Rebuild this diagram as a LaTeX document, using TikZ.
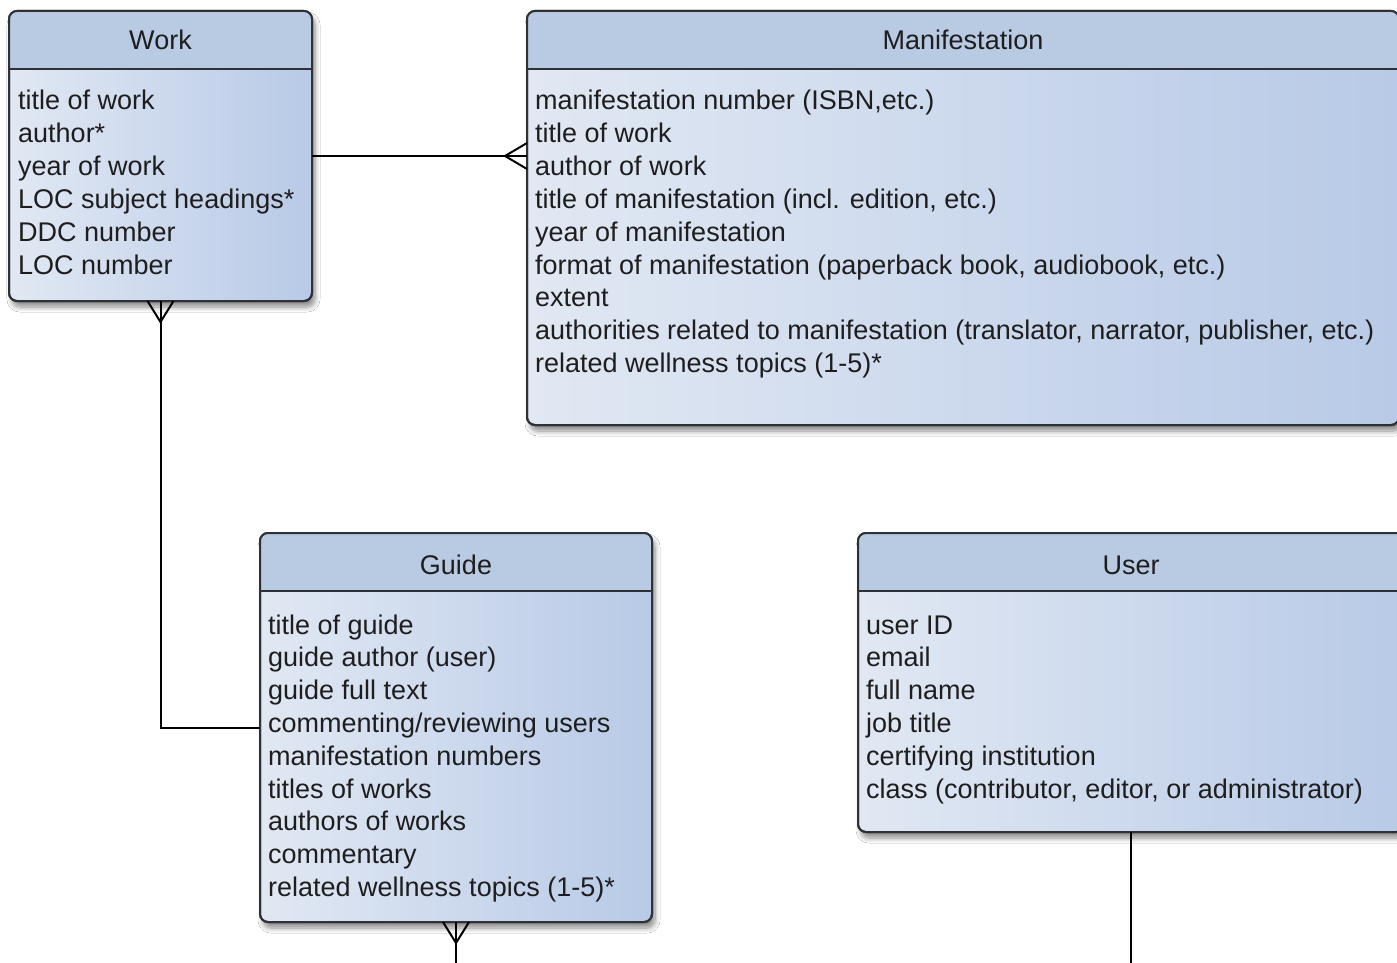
\documentclass[tikz,border=0pt]{standalone}
\usepackage{fontspec}
\setmainfont{Liberation Sans}
\usetikzlibrary{calc,shadows.blur}
\definecolor{hdr}{HTML}{B9CAE3}
\definecolor{bodyL}{HTML}{E1E8F3}
\definecolor{bodyR}{HTML}{B8CAE7}
\definecolor{edgec}{HTML}{2E3236}
\definecolor{txt}{HTML}{1E1E1E}
\tikzset{
  ent/.style={draw=edgec, line width=2pt, rounded corners=8pt, left color=bodyL, right color=bodyR,
    inner sep=0pt, outer sep=0pt, anchor=north west,
    blur shadow={shadow xshift=3pt, shadow yshift=-6pt, shadow blur steps=8, shadow opacity=45, shadow blur radius=5pt}},
  border/.style={draw=edgec, line width=2pt, rounded corners=8pt},
  sep/.style={draw=edgec, line width=2pt},
  ttl/.style={anchor=base, inner sep=0pt, text=txt, font=\fontsize{27}{33}\selectfont},
  row/.style={anchor=base west, inner sep=0pt, text=txt, font=\fontsize{27}{33}\selectfont},
  conn/.style={draw=black, line width=2pt},
}
\begin{document}
\begin{tikzpicture}[x=1pt, y=-1pt]
\useasboundingbox (0,0) rectangle (1397,963);
\fill[white] (0,0) rectangle (1397,963);
\clip (0,0) rectangle (1397,963);

% ---------- boxes ----------
\node[ent, minimum width=303pt, minimum height=290pt] (w) at (9,11) {};
\node[ent, minimum width=872pt, minimum height=414pt] (m) at (527,11) {};
\node[ent, minimum width=392pt, minimum height=389pt] (g) at (260,533) {};
\node[ent, minimum width=546pt, minimum height=299pt] (u) at (858,533) {};

% headers
\foreach \b in {w,m,g,u}{
  \fill[hdr, rounded corners=8pt] (\b.north west) rectangle ($(\b.north east)+(0,58)$);
  \fill[hdr] ($(\b.north west)+(0,30)$) rectangle ($(\b.north east)+(0,58)$);
  \draw[sep] ($(\b.north west)+(0,58)$) -- ($(\b.north east)+(0,58)$);
  \draw[border] (\b.north west) rectangle (\b.south east);
}

% titles
\node[ttl] (wt) at (160.5,50) {Work};
\node[ttl] (mt) at (963,50) {Manifestation};
\node[ttl] (gt) at (456,574) {Guide};
\node[ttl] (ut) at (1131,574) {User};

% rows
\foreach \t [count=\i] in {title of work, author*, year of work, LOC subject headings*, DDC number, LOC number}
  \node[row] (wr\i) at (18,{110+32.8*(\i-1)}) {\t};
\foreach \t [count=\i] in {{manifestation number (ISBN,etc.)}, title of work, author of work,
  {title of manifestation (incl. edition, etc.)}, year of manifestation,
  {format of manifestation (paperback book, audiobook, etc.)}, extent,
  {authorities related to manifestation (translator, narrator, publisher, etc.)},
  related wellness topics (1-5)*}
  \node[row] (mr\i) at (535,{110+32.8*(\i-1)}) {\t};
\foreach \t [count=\i] in {title of guide, guide author (user), guide full text,
  commenting/reviewing users, manifestation numbers, titles of works, authors of works,
  commentary, related wellness topics (1-5)*}
  \node[row] (gr\i) at (268,{634+32.8*(\i-1)}) {\t};
\foreach \t [count=\i] in {user ID, email, full name, job title, certifying institution,
  {class (contributor, editor, or administrator)}}
  \node[row] (ur\i) at (866,{634+32.8*(\i-1)}) {\t};

% ---------- connectors ----------
% Work -- Manifestation (many at Manifestation)
\coordinate (mp) at (m.west |- w.east);
\draw[conn] (w.east) -- (mp);
\draw[conn] ($(mp)+(0,-13)$) -- ($(mp)+(-22,0)$) -- ($(mp)+(0,13)$);

% Work (many) -- Guide
\draw[conn] (w.south) |- (g.west);
\draw[conn] ($(w.south)+(-13,0)$) -- ($(w.south)+(0,21)$) -- ($(w.south)+(13,0)$);

% Guide (many) -- off picture
\coordinate (gend) at (g.south |- 0,975);
\draw[conn] (g.south) -- (gend);
\draw[conn] ($(g.south)+(-13,0)$) -- ($(g.south)+(0,21)$) -- ($(g.south)+(13,0)$);

% User -- off picture
\coordinate (uend) at (u.south |- 0,975);
\draw[conn] (u.south) -- (uend);
\end{tikzpicture}
\end{document}
